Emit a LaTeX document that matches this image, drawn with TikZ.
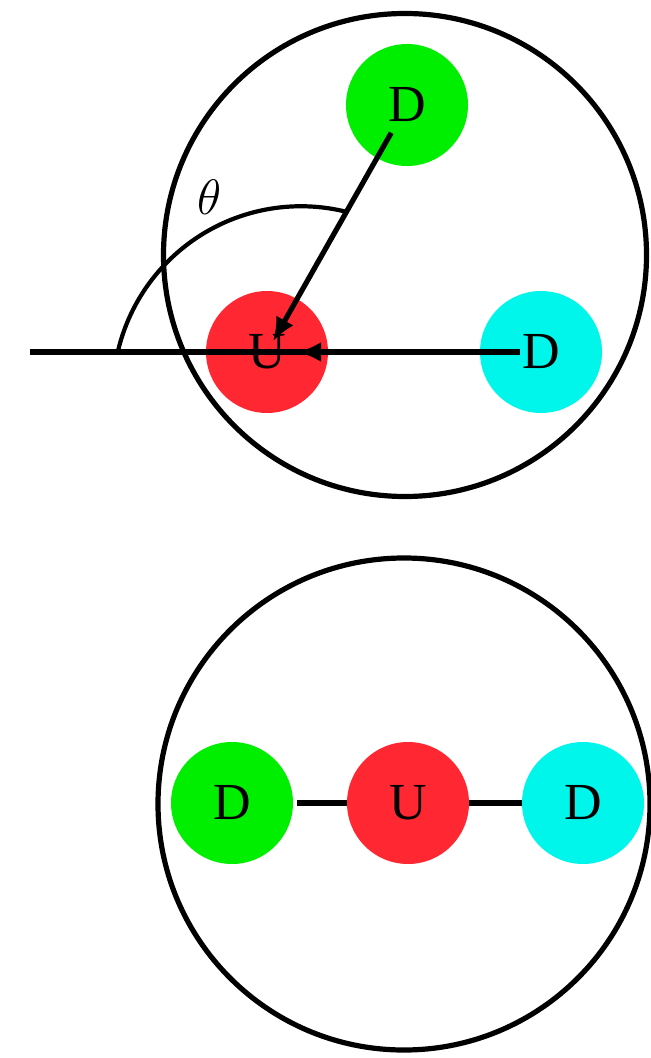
\documentclass[tikz,border=0pt]{standalone}
\usepackage{fontspec}
\setmainfont{Liberation Serif}
\usetikzlibrary{arrows.meta}
\definecolor{qgreen}{RGB}{0,238,0}
\definecolor{qred}{RGB}{255,40,50}
\definecolor{qcyan}{RGB}{0,245,235}
\begin{document}
\begin{tikzpicture}[x=0.5pt,y=0.5pt,
  quark/.style={circle,minimum size=61pt,inner sep=0pt,outer sep=0pt,font=\fontsize{26}{30}\selectfont},
  ln/.style={line width=2.6pt,black},
  arr/.style={ln,-{Latex[length=12pt,width=10pt]}}]
\useasboundingbox (0,0) rectangle (651,-1058);
% top diagram
\draw[ln] (405,-255) circle[radius=120.75pt];
\node[quark,fill=qgreen] (gD) at (407,-105) {D};
\node[quark,fill=qred] (U) at (267,-352) {U};
\node[quark,fill=qcyan] (cD) at (541,-352) {D};
\coordinate (L) at (30,-352);
\coordinate (R) at (520,-352);
\draw[ln] (L) -- (R);
\draw[arr,shorten <=10.5pt,shorten >=15pt] (cD.center) -- (U.center);
\draw[arr,shorten <=16pt,shorten >=6pt] (gD.center) -- (U.center);
\draw[line width=2.1pt] (118,-351) arc[start angle=166.7,end angle=75.4,radius=94pt];
\node[font=\fontsize{26}{30}\selectfont] (th) at (210,-197) {$\theta$};
% bottom diagram
\draw[ln] (404,-804) circle[radius=123pt];
\node[quark,fill=qgreen] (bgD) at (232,-803) {D};
\node[quark,fill=qred] (bU) at (408,-803) {U};
\node[quark,fill=qcyan] (bcD) at (583,-803) {D};
\draw[ln,shorten <=2pt] (bgD) -- (bU);
\draw[ln] (bU) -- (bcD);
\end{tikzpicture}
\end{document}
